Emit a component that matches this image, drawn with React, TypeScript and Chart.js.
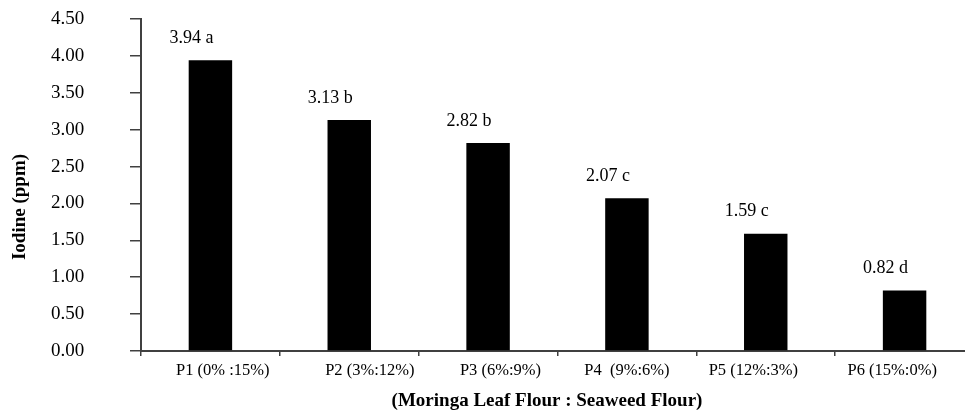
import React, { useEffect, useRef } from "react";
import { Chart, registerables } from "chart.js";

Chart.register(...registerables);

const categories = ["P1 (0% :15%)", "P2 (3%:12%)", "P3 (6%:9%)", "P4  (9%:6%)", "P5 (12%:3%)", "P6 (15%:0%)"];
const iodineValues = [3.94, 3.13, 2.82, 2.07, 1.59, 0.82];
const significanceLetters = ["a", "b", "b", "c", "c", "d"];
const yTickValues = [0, 0.5, 1, 1.5, 2, 2.5, 3, 3.5, 4, 4.5];

// label nudges (styling only): number of padding spaces, + left pad, - right pad
const labelPadSpaces = [6, 10, 6, 0, -6, -6];

const SERIF = "'Liberation Serif', 'Times New Roman', serif";

export default function App() {
  const canvasRef = useRef<HTMLCanvasElement | null>(null);

  useEffect(() => {
    const canvas = canvasRef.current;
    if (!canvas) return;

    const valueLabels = {
      id: "valueLabels",
      afterDatasetsDraw(chart: any) {
        const ctx = chart.ctx;
        const meta = chart.getDatasetMeta(0);
        ctx.save();
        ctx.font = `18px ${SERIF}`;
        ctx.fillStyle = "#000";
        ctx.textAlign = "center";
        ctx.textBaseline = "middle";
        meta.data.forEach((bar: any, i: number) => {
          const txt = `${iodineValues[i].toFixed(2)} ${significanceLetters[i]}`;
          ctx.fillText(txt, bar.x - 19, bar.y - 22);
        });
        ctx.restore();
      },
    };

    const axisTitles = {
      id: "axisTitles",
      afterDraw(chart: any) {
        const ctx = chart.ctx;
        const area = chart.chartArea;
        ctx.save();
        ctx.fillStyle = "#000";
        ctx.font = `bold 19px ${SERIF}`;
        ctx.textAlign = "center";
        ctx.textBaseline = "middle";
        // x title
        ctx.fillText("(Moringa Leaf Flour : Seaweed Flour)", area.left + 406, area.bottom + 50);
        // y title
        ctx.translate(20.5, area.top + 188);
        ctx.rotate(-Math.PI / 2);
        ctx.fillText("Iodine (ppm)", 0, 0);
        ctx.restore();
      },
    };

    const chart = new Chart(canvas, {
      type: "bar",
      data: {
        labels: categories,
        datasets: [
          {
            data: iodineValues,
            backgroundColor: "#000000",
            borderColor: "#555555",
            borderWidth: 0,
            barPercentage: 0.313,
            categoryPercentage: 1,
          },
        ],
      },
      options: {
        animation: false,
        responsive: false,
        maintainAspectRatio: false,
        devicePixelRatio: 1,
        layout: { padding: { top: 19, right: 26, left: 51, bottom: 0 } },
        plugins: {
          legend: { display: false },
          tooltip: { enabled: false },
          title: { display: false },
        },
        scales: {
          x: {
            type: "category",
            grid: {
              offset: true,
              drawOnChartArea: false,
              drawTicks: true,
              tickLength: 5,
              color: "#404040",
              lineWidth: 1.5,
            },
            border: { display: true, color: "#404040", width: 2 },
            ticks: {
              color: "#000",
              font: { family: SERIF, size: 16.5 },
              padding: 5,
              maxRotation: 0,
              minRotation: 0,
              autoSkip: false,
              callback: (_v: any, i: number) => {
                const n = labelPadSpaces[i];
                const s = categories[i];
                if (n > 0) return " ".repeat(n) + s;
                if (n < 0) return s + " ".repeat(-n);
                return s;
              },
            },
            afterFit: (s: any) => {
              s.height = 60;
            },
          },
          y: {
            min: 0,
            max: 4.5,
            afterBuildTicks: (s: any) => {
              s.ticks = yTickValues.map((v) => ({ value: v }));
            },
            grid: {
              drawOnChartArea: false,
              drawTicks: true,
              tickLength: 11,
              color: "#404040",
              lineWidth: 1.5,
            },
            border: { display: true, color: "#404040", width: 2 },
            ticks: {
              color: "#000",
              font: { family: SERIF, size: 19 },
              padding: 3,
              crossAlign: "far",
              callback: (v: any) => Number(v).toFixed(2),
            },
            afterFit: (s: any) => {
              s.width = 90;
            },
          },
        },
      },
      plugins: [valueLabels, axisTitles],
    });

    return () => {
      chart.destroy();
    };
  }, []);

  return (
    <div
      style={{
        position: "absolute",
        left: 0,
        top: 0,
        width: 965,
        height: 411,
        overflow: "hidden",
        background: "#fff",
      }}
    >
      <canvas ref={canvasRef} width={1000} height={411} style={{ display: "block" }} />
    </div>
  );
}
